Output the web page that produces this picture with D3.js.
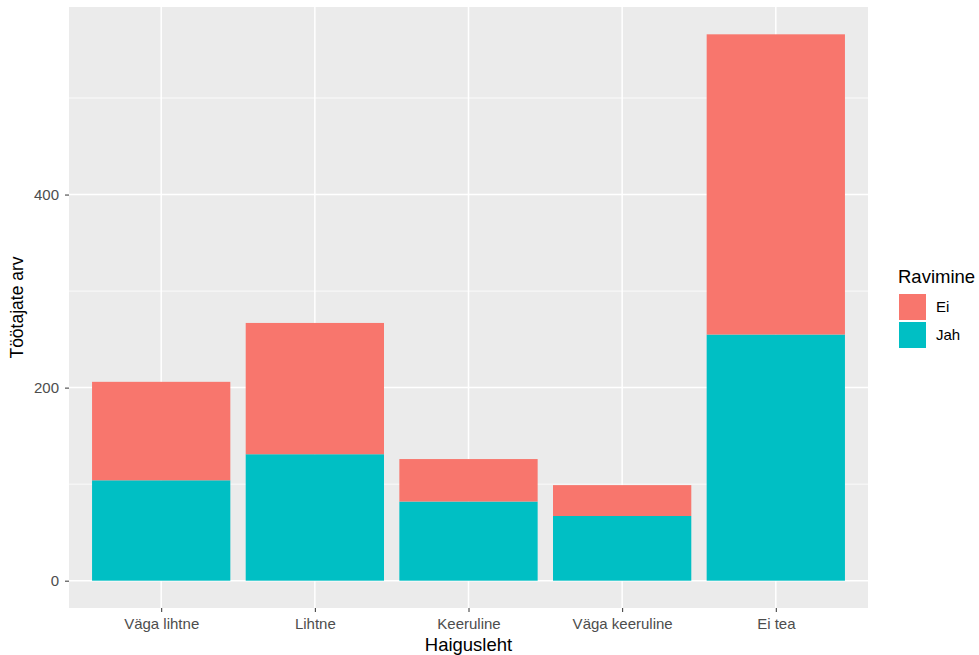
<!DOCTYPE html>
<html><head><meta charset="utf-8">
<script src="https://cdn.jsdelivr.net/npm/d3@7"></script>
<style>body{margin:0;background:#fff;}text{font-family:"Liberation Sans",Arial,sans-serif;}</style>
</head><body>
<svg id="c" width="979" height="655"></svg>
<script>
const categories = ["Väga lihtne","Lihtne","Keeruline","Väga keeruline","Ei tea"];
const jahValues = [104, 131, 82, 67, 255];
const eiValues  = [102, 136, 44, 32, 311];
const seriesNames = ["Ei","Jah"];
const seriesColors = ["#F8766D","#00BFC4"];
const yTicks = [0,200,400];
const yMinor = [100,300,500];

const svg = d3.select("#c");
const L=69, R=868, T=7, B=608;
const totals = categories.map((c,i)=>jahValues[i]+eiValues[i]);
const maxT = d3.max(totals);
const n = categories.length;
// ggplot-like discrete scale: positions 1..n, expand 0.6
const xl = d3.scaleLinear().domain([0.4, n+0.6]).range([L,R]);
const y = d3.scaleLinear().domain([-0.05*maxT, maxT*1.05]).range([B,T]);

svg.append("rect").attr("x",L).attr("y",T).attr("width",R-L).attr("height",B-T).attr("fill","#EBEBEB");
yMinor.forEach(v=>svg.append("line").attr("x1",L).attr("x2",R).attr("y1",y(v)).attr("y2",y(v)).attr("stroke","#fff").attr("stroke-width",0.8));
yTicks.forEach(v=>svg.append("line").attr("x1",L).attr("x2",R).attr("y1",y(v)).attr("y2",y(v)).attr("stroke","#fff").attr("stroke-width",1.5));
categories.forEach((c,i)=>svg.append("line").attr("x1",xl(i+1)).attr("x2",xl(i+1)).attr("y1",T).attr("y2",B).attr("stroke","#fff").attr("stroke-width",1.5));

const bw = xl(0.9)-xl(0);
const stack = d3.stack().keys(["Jah","Ei"])(categories.map((c,i)=>({cat:c,Jah:jahValues[i],Ei:eiValues[i]})));
stack.forEach(layer=>{
  const col = layer.key==="Ei"?seriesColors[0]:seriesColors[1];
  svg.append("g").selectAll("rect").data(layer).join("rect")
    .attr("x",(d,i)=>xl(i+1)-bw/2).attr("width",bw)
    .attr("y",d=>y(d[1])).attr("height",d=>y(d[0])-y(d[1]))
    .attr("fill",col);
});

// y axis
const ya = svg.append("g").attr("transform",`translate(${L},0)`).call(d3.axisLeft(y).tickValues(yTicks).tickSize(4).tickPadding(6));
ya.select(".domain").remove();
ya.selectAll("line").attr("stroke","#333").attr("stroke-width",1);
ya.selectAll("text").attr("fill","#4D4D4D").style("font-size","15px");
// x axis
const xa = svg.append("g").attr("transform",`translate(0,${B})`).call(d3.axisBottom(xl).tickValues(d3.range(1,n+1)).tickFormat(d=>categories[d-1]).tickSize(4).tickPadding(6));
xa.select(".domain").remove();
xa.selectAll("line").attr("stroke","#333").attr("stroke-width",1);
xa.selectAll("text").attr("fill","#4D4D4D").style("font-size","15px");

svg.append("text").attr("x",(L+R)/2).attr("y",651).attr("text-anchor","middle").style("font-size","18.5px").attr("fill","#000").text("Haigusleht");
svg.append("text").attr("transform",`translate(23,${(T+B)/2}) rotate(-90)`).attr("text-anchor","middle").style("font-size","17.5px").attr("fill","#000").text("Töötajate arv");

// legend
svg.append("text").attr("x",898).attr("y",283).style("font-size","18.5px").attr("fill","#000").text("Ravimine");
seriesNames.forEach((s,i)=>{
  const ky = 294 + i*28;
  svg.append("rect").attr("x",899).attr("y",ky).attr("width",27).attr("height",26).attr("fill",seriesColors[i]);
  svg.append("text").attr("x",936).attr("y",ky+13).attr("dy","0.35em").style("font-size","15px").attr("fill","#000").text(s);
});
</script>
</body></html>
